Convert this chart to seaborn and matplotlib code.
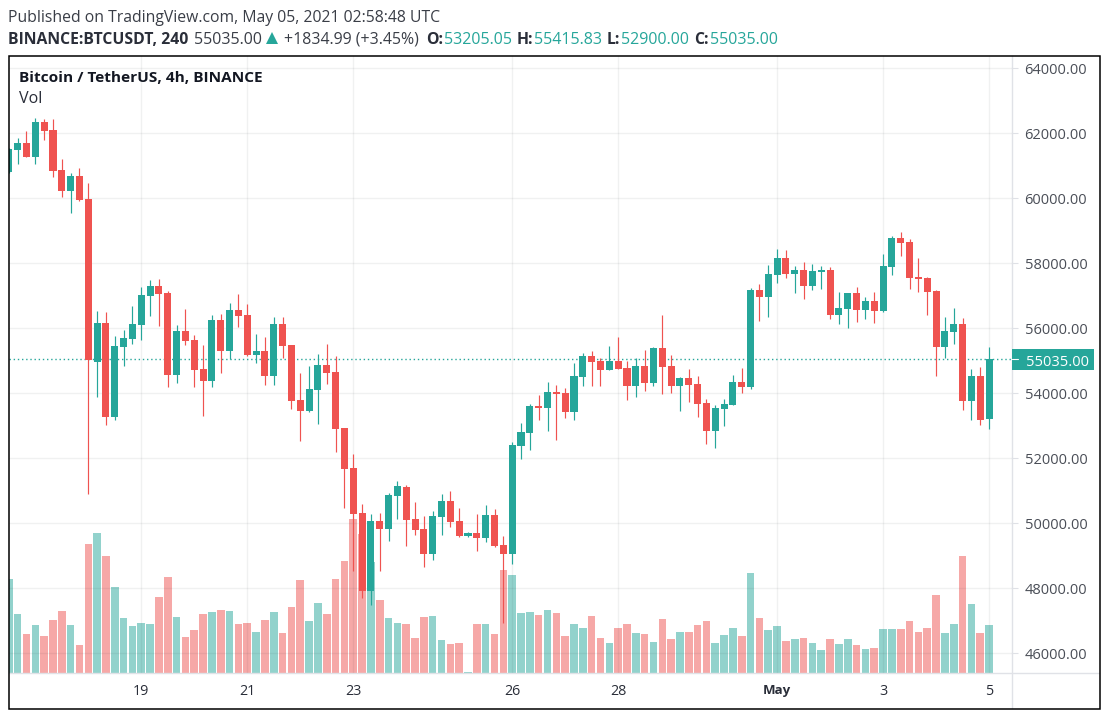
import numpy as np
import pandas as pd
import matplotlib
matplotlib.use('Agg')
import matplotlib.pyplot as plt
import seaborn as sns
from matplotlib.lines import Line2D
from matplotlib.patches import Rectangle, Polygon

# 4h candles
open_ = [60800, 61480, 61690, 61260, 62340, 62090, 60860, 60220, 60680, 59970,
         54950, 56150, 53260, 55420, 55660, 56090, 56980, 57290, 57080, 54550,
         55910, 55630, 54740, 54370, 56250, 55290, 56550, 56400, 55170, 55290,
         54520, 56120, 55480, 53790, 53450, 54090, 54860, 54650, 52920, 51690,
         50310, 47910, 50060, 49820, 50830, 51110, 50120, 49820, 49050, 50180,
         50680, 50060, 49600, 49690, 49540, 50250, 49320, 49050, 52370, 52770,
         53600, 53540, 54030, 54000, 53420, 54490, 55140, 54980, 54710, 54980,
         54770, 54220, 54830, 54310, 55380, 54830, 54220, 54460, 54280, 53690,
         52830, 53510, 53630, 54340, 54180, 57170, 56950, 57630, 58150, 57660,
         57790, 57290, 57720, 57790, 56400, 56590, 57080, 56550, 56830, 56520,
         57880, 58770, 58650, 57570, 57540, 57140, 55420, 55880, 56120, 53750,
         54520, 53205]
high = [61550, 61850, 62060, 62460, 62430, 62430, 61200, 60770, 60920, 60460,
        56520, 56490, 55750, 55940, 56680, 57260, 57480, 57510, 57140, 56090,
        56580, 55780, 55480, 56400, 56430, 56770, 57050, 56740, 55820, 55720,
        56340, 56340, 55480, 54620, 54830, 55200, 55510, 55140, 52920, 52120,
        50580, 50280, 50310, 50920, 51290, 51170, 50650, 50220, 50370, 50890,
        50980, 50460, 49720, 50280, 50550, 50430, 49600, 52490, 53080, 53660,
        53940, 54340, 54250, 54150, 54920, 55230, 55290, 55080, 55450, 55720,
        54980, 55080, 55320, 55420, 56400, 55170, 54490, 54740, 54520, 53820,
        53630, 53820, 54550, 54770, 57230, 57350, 57940, 58430, 58400, 57910,
        58030, 57970, 57910, 57880, 57110, 57080, 57260, 56950, 57110, 58280,
        58830, 58950, 58740, 58150, 57570, 57170, 56340, 56620, 56310, 54740,
        54800, 55416]
low = [60760, 61050, 61260, 61050, 61790, 60650, 60030, 59540, 59910, 50890,
       53880, 53020, 53170, 54830, 55510, 55630, 56370, 56060, 54180, 54310,
       55480, 54180, 53290, 54180, 54620, 55050, 56030, 55140, 54920, 54250,
       54250, 55080, 53510, 52520, 53420, 53050, 54280, 52190, 50460, 48520,
       47690, 47480, 48520, 49450, 50120, 49290, 49630, 48650, 48860, 49630,
       49880, 49570, 49570, 49140, 49420, 49260, 46920, 48740, 51970, 52250,
       53170, 52830, 52550, 53230, 53170, 54220, 54220, 54220, 54710, 54740,
       53790, 53880, 54060, 54220, 53970, 54000, 53450, 53720, 53260, 52430,
       52310, 52980, 53630, 54000, 54120, 56220, 56340, 57380, 57540, 57080,
       56890, 57170, 57200, 56280, 56120, 56000, 56180, 56280, 56150, 56490,
       57630, 58220, 57200, 57110, 56400, 54520, 55080, 55510, 53480, 53170,
       53020, 52900]
close = [61510, 61690, 61260, 62340, 62060, 60830, 60220, 60680, 59940, 55020,
         56150, 53260, 55450, 55690, 56120, 57020, 57290, 57050, 54550, 55910,
         55600, 54710, 54370, 56250, 55290, 56550, 56370, 55170, 55290, 54520,
         56120, 55450, 53750, 53450, 54120, 54860, 54620, 52890, 51660, 50280,
         47910, 50060, 49820, 50860, 51140, 50090, 49780, 49050, 50220, 50680,
         50030, 49600, 49690, 49540, 50250, 49290, 49050, 52400, 52800, 53600,
         53540, 54030, 53970, 53420, 54520, 55140, 54950, 54710, 54980, 54740,
         54220, 54830, 54310, 55380, 54800, 54220, 54460, 54250, 53660, 52830,
         53540, 53660, 54340, 54180, 57170, 56950, 57660, 58150, 57660, 57790,
         57290, 57750, 57790, 56400, 56620, 57080, 56550, 56830, 56520, 57910,
         58770, 58620, 57540, 57510, 57110, 55420, 55910, 56120, 53750, 54520,
         53170, 55035]
# no scale on the chart, bar heights are relative
volume = [94, 59, 39, 48, 37, 53, 62, 48, 28, 129, 140, 117, 86, 55, 47, 50,
          49, 76, 96, 56, 36, 43, 59, 61, 63, 62, 49, 50, 41, 53, 61, 40,
          66, 93, 52, 70, 59, 94, 112, 154, 139, 111, 73, 55, 50, 49, 35, 56,
          57, 33, 29, 30, 1, 49, 49, 39, 103, 98, 60, 61, 58, 63, 60, 37,
          49, 45, 57, 35, 30, 45, 49, 40, 39, 31, 54, 34, 41, 41, 48, 52,
          30, 38, 45, 37, 100, 55, 43, 47, 32, 34, 35, 30, 23, 34, 29, 34,
          28, 24, 25, 44, 44, 44, 52, 41, 45, 78, 40, 49, 117, 69, 40, 48]

price_ticks = [46000, 48000, 50000, 52000, 54000, 56000, 58000, 60000, 62000, 64000]
date_ticks = [15, 27, 39, 57, 69, 87, 99, 111]
date_labels = ['19', '21', '23', '26', '28', 'May', '3', '5']
last_price = 55035

GREEN = '#26a69a'
RED = '#ef5350'
TEXT = '#131722'
FONT = 'Open Sans'

W, H = 1108, 717
L, R, T, B = 9, 1012, 56, 673


def fx(px):
    return px / W


def fy(px):
    return 1 - px / H


sns.set_theme(style='white')
plt.rcParams['font.family'] = [FONT, 'DejaVu Sans']

df = pd.DataFrame({'open': open_, 'high': high, 'low': low, 'close': close, 'volume': volume})
df['idx'] = np.arange(len(df))
df['dir'] = np.where(df['close'] >= df['open'], 'up', 'down')

fig = plt.figure(figsize=(W / 100, H / 100), dpi=100, facecolor='white')
rect = [fx(L), fy(B), (R - L) / W, (B - T) / H]

# volume sits behind the price axes
ax_vol = fig.add_axes(rect, zorder=1)
sns.barplot(data=df, x='idx', y='volume', hue='dir', palette={'up': GREEN, 'down': RED},
            native_scale=True, dodge=False, width=0.86, saturation=1, alpha=0.5,
            linewidth=0, legend=False, ax=ax_vol)
ax_vol.set_ylim(0, B - T)
ax_vol.axis('off')

ax = fig.add_axes(rect, zorder=2)
ax.patch.set_visible(False)
colors = np.where(df['close'] >= df['open'], GREEN, RED)
ax.vlines(df['idx'], df['low'], df['high'], colors=colors, lw=0.85, zorder=3)
ax.bar(df['idx'], (df['close'] - df['open']).abs(), bottom=df[['open', 'close']].min(axis=1),
       width=0.8, color=colors, linewidth=0, zorder=4)
ax.axhline(last_price, color=GREEN, lw=1.0, ls=(0, (1, 2)), zorder=2)

xlim = (0.02, 113.6)
ax.set_xlim(xlim)
ax_vol.set_xlim(xlim)
ax.set_ylim(45385, 64370)

ax.set_yticks(price_ticks)
ax.set_yticklabels([f'{p:.2f}' for p in price_ticks])
ax.yaxis.tick_right()
ax.set_xticks(date_ticks)
ax.set_xticklabels(date_labels)
ax.grid(True, color='#2a2e39', alpha=0.065, lw=1)
ax.set_axisbelow(True)
ax.tick_params(axis='y', length=4.5, width=0.8, color='#dfe1e6', labelsize=10.5,
               labelcolor='#4a4e57', pad=4.5)
ax.tick_params(axis='x', length=3, width=0.8, color='#e4e6ea', labelsize=10.3,
               labelcolor='#2a2e39', pad=5)
ax.get_xticklabels()[5].set_fontweight('bold')
ax.get_xticklabels()[5].set_fontsize(9.5)
for s in ax.spines.values():
    s.set_visible(False)

# current price tag on the price scale
tag_h = 21 * (64370 - 45385) / (B - T)
trans = ax.get_yaxis_transform()
ax.add_patch(Rectangle((1, last_price - tag_h / 2), 82 / (R - L), tag_h, transform=trans,
                       color=GREEN, lw=0, clip_on=False, zorder=5))
ax.text(1 + 14 / (R - L), last_price - 30, f'{last_price:.2f}', transform=trans, color='white',
        fontsize=10.5, va='center_baseline', ha='left', zorder=6)
ax.plot([1, 1 + 6 / (R - L)], [last_price, last_price], transform=trans, color='white',
        lw=0.8, clip_on=False, zorder=6)

# frame and separators
fig.add_artist(Line2D([fx(R), fx(R)], [fy(T), fy(708)], color='#e0e2e7', lw=1))
fig.add_artist(Line2D([fx(L), fx(1099)], [fy(B), fy(B)], color='#e0e2e7', lw=1))
fig.add_artist(Rectangle((fx(8.5), fy(708.5)), (1099.5 - 8.5) / W, (708.5 - 55.5) / H,
                         transform=fig.transFigure, fill=False, ec='black', lw=1.1, zorder=10))


def put(x, y, s, color=TEXT, weight='normal', size=11.4):
    fig.text(fx(x), fy(y), s, color=color, fontweight=weight, fontsize=size,
             va='center_baseline', ha='left')


put(19, 77, 'Bitcoin / TetherUS, 4h, BINANCE', weight='bold', size=11.1)
put(19, 97, 'Vol', color='#2a2e39', size=11.6)

put(8, 16, 'Published on TradingView.com, May 05, 2021 02:58:48 UTC', color='#3a3e47', size=11.3)
put(8, 38, 'BINANCE:BTCUSDT, 240', color='#2a2e39', weight='bold', size=11.3)
put(194, 38, '55035.00', color='#3a3e47', size=11.5)
fig.add_artist(Polygon([(fx(266), fy(44)), (fx(278), fy(44)), (fx(272), fy(32))],
                       transform=fig.transFigure, color=GREEN, lw=0))
put(284, 38, '+1834.99 (+3.45%)', color='#3a3e47', size=11.4)
ohlc_labels = ['O:', 'H:', 'L:', 'C:']
ohlc_values = ['53205.05', '55415.83', '52900.00', '55035.00']
label_x = [426, 517, 607, 694]
value_x = [444, 534, 621, 710]
for lab, val, xl, xv in zip(ohlc_labels, ohlc_values, label_x, value_x):
    put(xl, 38, lab, color='#2a2e39', weight='bold', size=11.3)
    put(xv, 38, val, color=GREEN, size=11.5)

fig.savefig('out.png', dpi=100, facecolor='white')
